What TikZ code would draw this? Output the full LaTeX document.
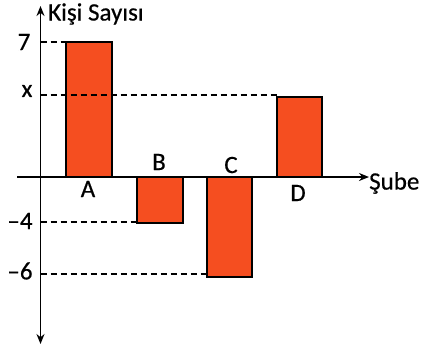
\documentclass[tikz,border=0pt]{standalone}
\usepackage{fontspec}
\setmainfont{Carlito}[FakeBold=0.5]
\usetikzlibrary{arrows.meta}
\definecolor{barfill}{RGB}{245,78,32}
\begin{document}
\begin{tikzpicture}[x=1pt,y=-1pt,
  bar/.style={draw=black,line width=1.6pt,fill=barfill},
  axis/.style={line width=1.8pt,-{Stealth[length=10pt,width=8pt]}},
  guide/.style={line width=1.5pt,dash pattern=on 6pt off 4pt},
  lbl/.style={font=\fontsize{25}{25}\selectfont,inner sep=0pt}]
\useasboundingbox (0,0) rectangle (422,349);
% bars
\draw[bar] (66,177) rectangle (112,42);
\draw[bar] (137,177) rectangle (183,223);
\draw[bar] (207,177) rectangle (252,277);
\draw[bar] (277,177) rectangle (322,97);
% axes
\coordinate (yb) at (40.5,344);
\coordinate (yt) at (40.5,6);
\coordinate (xl) at (17,177);
\coordinate (xr) at (369,177);
\draw[axis] (40.5,177) -- (yt);
\draw[axis] (40.5,177) -- (yb);
\draw[line width=1.8pt] (xl) -- (40.5,177);
\draw[axis] (40.5,177) -- (xr);
% guides
\coordinate (g7) at (40.5,42);
\coordinate (gx) at (40.5,95);
\coordinate (g4) at (40.5,222);
\coordinate (g6) at (40.5,274);
\draw[guide] (g7) -- (66,42);
\draw[guide] (gx) -- (277,95);
\draw[guide] (g4) -- (137,222);
\draw[guide] (g6) -- (207,274);
% labels
\node[lbl,anchor=west] (title) at (48,14) {Kişi Sayısı};
\node[lbl] (l7) at (24,42) {7};
\node[lbl] (lx) at (27,91) {x};
\node[lbl] (l4) at (20,221) {\textendash4};
\node[lbl] (l6) at (20,271) {\textendash6};
\node[lbl] (la) at (88,189) {A};
\node[lbl] (lb) at (159,162) {B};
\node[lbl] (lc) at (231,165) {C};
\node[lbl] (ld) at (298,193) {D};
\node[lbl,anchor=west] (lsube) at (369,183) {Şube};
\end{tikzpicture}
\end{document}
